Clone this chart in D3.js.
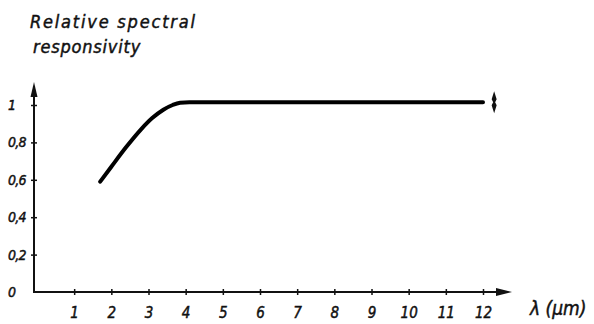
<!DOCTYPE html>
<html>
<head>
<meta charset="utf-8">
<script src="https://cdn.jsdelivr.net/npm/d3@7"></script>
<style>
  body { margin: 0; background: #fff; }
  svg { display: block; }
  text { font-family: "DejaVu Sans Condensed", "DejaVu Sans", sans-serif; font-style: oblique; fill: #111; stroke: #111; stroke-width: 0.45px; }
  .domain { display: none; }
</style>
</head>
<body>
<div id="chart"></div>
<script>
// wavelength in um, relative responsivity
const wavelength = [1.7, 2.0, 2.4, 2.8, 3.1, 3.4, 3.65, 3.85, 4.1, 5, 8, 12]
const responsivity = [0.59, 0.67, 0.775, 0.87, 0.93, 0.975, 1.0, 1.012, 1.015, 1.015, 1.015, 1.015]

const xTicks = [1, 2, 3, 4, 5, 6, 7, 8, 9, 10, 11, 12]
const yTicks = [0, 0.2, 0.4, 0.6, 0.8, 1]
const yTickLabels = ["0", "0,2", "0,4", "0,6", "0,8", "1"]

const width = 594, height = 324

var svg = d3.select("#chart")
              .append("svg")
                .attr("width", width)
                .attr("height", height)

var x = d3.scaleLinear().domain([0, 12]).range([37, 483])
var y = d3.scaleLinear().domain([0, 1]).range([292, 105])

const x0 = 34, y0 = 292

// Axes lines with arrows
svg.append("line")
    .attr("x1", x0).attr("y1", y0)
    .attr("x2", 500).attr("y2", y0)
    .attr("stroke", "#111").attr("stroke-width", 2)
svg.append("path")
    .attr("d", `M512,${y0} L496,${y0 - 4} L496,${y0 + 4} Z`)
    .attr("fill", "#111")

svg.append("line")
    .attr("x1", x0).attr("y1", y0 + 1)
    .attr("x2", x0).attr("y2", 94)
    .attr("stroke", "#111").attr("stroke-width", 2)
svg.append("path")
    .attr("d", `M${x0},82 L${x0 - 3.5},97 L${x0 + 3.5},97 Z`)
    .attr("fill", "#111")

// X axis ticks
var gx = svg.append("g")
    .attr("transform", `translate(0,${y0})`)
    .call(d3.axisBottom(x).tickValues(xTicks).tickSize(3).tickPadding(12).tickFormat(d3.format("d")))
gx.selectAll(".tick line").attr("y1", -3).attr("stroke", "#111").attr("stroke-width", 1.5)
gx.selectAll(".tick text")
    .style("font-size", "15px")
    .attr("fill", "#111")

// Y axis ticks
var gy = svg.append("g")
    .attr("transform", `translate(${x0},0)`)
    .call(d3.axisLeft(y).tickValues(yTicks).tickSize(3).tickFormat((d, i) => yTickLabels[i]))
gy.selectAll(".tick line").attr("x1", 3).attr("stroke", "#111").attr("stroke-width", 1.5)
gy.selectAll(".tick line").filter(d => d === 0).remove()
gy.selectAll(".tick text")
    .attr("text-anchor", "start")
    .attr("x", -26)
    .style("font-size", "14px")
    .style("letter-spacing", "-0.8px")
    .attr("fill", "#111")

// Curve
var data = wavelength.map((w, i) => ({ w: w, r: responsivity[i] }))
var line = d3.line()
    .x(d => x(d.w))
    .y(d => y(d.r))
    .curve(d3.curveMonotoneX)

svg.append("path")
    .datum(data)
    .attr("d", line)
    .attr("fill", "none")
    .attr("stroke", "#000")
    .attr("stroke-width", 4)
    .attr("stroke-linecap", "round")

// double arrow marker at the end
const mx = x(12.3), my = y(1.015)
svg.append("path")
    .attr("d", `M${mx},${my - 11} L${mx + 2.5},${my - 3} L${mx + 1},${my} L${mx + 2.5},${my + 3} L${mx},${my + 11} L${mx - 2.5},${my + 3} L${mx - 1},${my} L${mx - 2.5},${my - 3} Z`)
    .attr("fill", "#111")

// Titles
svg.append("text")
    .attr("x", 30).attr("y", 28)
    .style("font-size", "18px")
    .style("letter-spacing", "1.8px")
    .text("Relative spectral")
svg.append("text")
    .attr("x", 33).attr("y", 53)
    .style("font-size", "18px")
    .style("letter-spacing", "0.8px")
    .text("responsivity")

svg.append("text")
    .attr("x", 530).attr("y", 315)
    .style("font-size", "19px")
    .text("λ (μm)")
</script>
</body>
</html>
